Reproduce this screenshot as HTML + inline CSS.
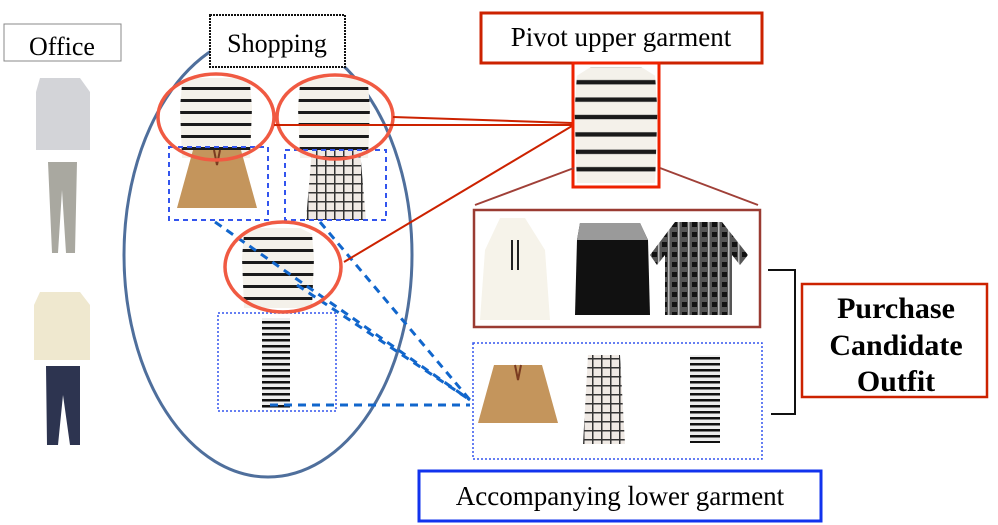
<!DOCTYPE html>
<html><head><meta charset="utf-8"><style>
html,body{margin:0;padding:0;background:#fff;}
svg{display:block;}
text{font-family:"Liberation Serif",serif;}
</style></head><body>
<svg width="998" height="525" viewBox="0 0 998 525" xmlns="http://www.w3.org/2000/svg">
<defs>
<pattern id="stripe" width="10" height="12" patternUnits="userSpaceOnUse"><rect width="10" height="12" fill="#f4f1ea"/><rect y="5" width="10" height="3" fill="#1a1a1a"/></pattern>
<pattern id="stripeS" width="10" height="6" patternUnits="userSpaceOnUse"><rect width="10" height="6" fill="#eee"/><rect y="3" width="10" height="2.5" fill="#111"/></pattern>
<pattern id="plaid" width="9" height="9" patternUnits="userSpaceOnUse"><rect width="9" height="9" fill="#efe9e4"/><rect x="7" width="1.5" height="9" fill="#333"/><rect y="7" width="9" height="1.5" fill="#333"/></pattern>
<pattern id="plaidD" width="10" height="10" patternUnits="userSpaceOnUse"><rect width="10" height="10" fill="#555"/><rect x="2" y="2" width="5" height="5" fill="#111"/><rect x="8" width="1.5" height="10" fill="#bbb"/></pattern>
<g id="top"><path d="M-22,-40 L22,-40 L34,-34 L36,-10 L34,40 L-34,40 L-36,-10 L-34,-34 Z" fill="url(#stripe)"/></g>
<g id="skirt"><path d="M-24,-30 L24,-30 L40,28 L-40,28 Z" fill="#c4955c"/><path d="M-3,-30 L0,-15 L3,-30" stroke="#7a3b20" stroke-width="2" fill="none"/></g>
<g id="plaidskirt"><path d="M-24,-35 L24,-35 L30,35 L-30,35 Z" fill="url(#plaid)"/></g>
</defs>

<!-- Office -->
<rect x="4" y="24" width="117" height="37" fill="#fff" stroke="#888" stroke-width="1"/>
<text x="62" y="55" font-size="26" text-anchor="middle">Office</text>
<path d="M40,78 L80,78 L90,92 L90,150 L36,150 L36,92 Z" fill="#d3d4d8"/>
<path d="M48,162 L77,162 L75,253 L66,253 L62,190 L58,253 L52,253 Z" fill="#a9a8a0"/>
<path d="M40,292 L80,292 L90,305 L90,360 L34,360 L34,305 Z" fill="#efe8cf"/>
<path d="M46,366 L80,366 L80,445 L70,445 L63,395 L58,445 L47,445 Z" fill="#2d3450"/>

<!-- big ellipse -->
<ellipse cx="268" cy="255" rx="144" ry="222" fill="none" stroke="#4f6f9c" stroke-width="3"/>
<rect x="210" y="15" width="135" height="52" fill="#fff" stroke="#111" stroke-width="2" stroke-dasharray="2,1"/>
<text x="277" y="52" font-size="26" text-anchor="middle">Shopping</text>

<!-- outfits -->
<use href="#top" x="216" y="118"/>
<use href="#top" x="334" y="118"/>
<use href="#top" x="278" y="268"/>
<use href="#skirt" x="217" y="180"/>
<use href="#plaidskirt" x="336" y="185"/>
<rect x="262" y="318" width="28" height="90" fill="url(#stripeS)"/>

<rect x="169" y="147" width="99" height="73" fill="none" stroke="#3355ee" stroke-width="2" stroke-dasharray="5,4"/>
<rect x="285" y="150" width="101" height="70" fill="none" stroke="#3355ee" stroke-width="2" stroke-dasharray="5,4"/>
<rect x="218" y="313" width="118" height="98" fill="none" stroke="#3355ee" stroke-width="1.5" stroke-dasharray="2,2"/>

<!-- blue dashed connectors -->
<g stroke="#1166cc" stroke-width="3" stroke-dasharray="8,6" fill="none">
<line x1="215" y1="222" x2="470" y2="400"/>
<line x1="320" y1="222" x2="470" y2="400"/>
<line x1="297" y1="285" x2="470" y2="400"/>
<line x1="270" y1="405" x2="470" y2="405"/>
</g>

<g fill="none" stroke="#f05a42" stroke-width="3.5">
<ellipse cx="216" cy="117" rx="58" ry="43"/>
<ellipse cx="335" cy="117" rx="58" ry="42"/>
<ellipse cx="283" cy="267" rx="58" ry="45"/>
</g>

<!-- red connectors -->
<g stroke="#cc2200" stroke-width="2" fill="none">
<line x1="274" y1="125" x2="572" y2="125"/>
<line x1="393" y1="117" x2="572" y2="123"/>
<line x1="344" y1="262" x2="572" y2="126"/>
</g>

<!-- Pivot -->
<rect x="481" y="13" width="281" height="50" fill="#fff" stroke="#cc2200" stroke-width="3"/>
<text x="621" y="46" font-size="27" text-anchor="middle">Pivot upper garment</text>
<g transform="translate(616,125) scale(1.15,1.45)"><use href="#top"/></g>
<rect x="573" y="63" width="86" height="124" fill="none" stroke="#ee2200" stroke-width="3"/>
<g stroke="#a04038" stroke-width="2"><line x1="574" y1="168" x2="475" y2="205"/><line x1="660" y1="168" x2="758" y2="205"/></g>

<!-- candidate uppers -->
<rect x="474" y="210" width="286" height="117" fill="none" stroke="#9a3b32" stroke-width="2.5"/>
<path d="M500,218 L525,218 L545,250 L550,320 L480,320 L485,250 Z" fill="#f6f3ea"/>
<line x1="512" y1="240" x2="512" y2="270" stroke="#222" stroke-width="2"/><line x1="518" y1="240" x2="518" y2="270" stroke="#222" stroke-width="2"/>
<path d="M580,223 L640,223 L648,240 L650,315 L575,315 L577,240 Z" fill="#111"/>
<path d="M580,223 L640,223 L648,240 L577,240 Z" fill="#9a9a9a"/>
<path d="M675,222 L722,222 L748,255 L740,265 L732,255 L732,315 L665,315 L665,255 L657,265 L650,255 Z" fill="url(#plaidD)"/>

<!-- candidate lowers -->
<rect x="473" y="343" width="289" height="116" fill="none" stroke="#3355ee" stroke-width="1.5" stroke-dasharray="2,2"/>
<use href="#skirt" x="518" y="395"/>
<path d="M588,355 L620,355 L625,444 L583,444 Z" fill="url(#plaid)"/>
<rect x="690" y="355" width="30" height="88" fill="url(#stripeS)"/>

<!-- bracket -->
<path d="M768,270 L795,270 L795,414 L771,414" fill="none" stroke="#111" stroke-width="2"/>
<rect x="802" y="284" width="185" height="113" fill="#fff" stroke="#cc2200" stroke-width="2.5"/>
<g font-size="30" font-weight="bold" text-anchor="middle">
<text x="896" y="318">Purchase</text>
<text x="896" y="355">Candidate</text>
<text x="896" y="391">Outfit</text>
</g>

<!-- accompanying -->
<rect x="419" y="471" width="402" height="50" fill="#fff" stroke="#1133ee" stroke-width="3"/>
<text x="620" y="505" font-size="27" text-anchor="middle">Accompanying lower garment</text>
</svg>
</body></html>
